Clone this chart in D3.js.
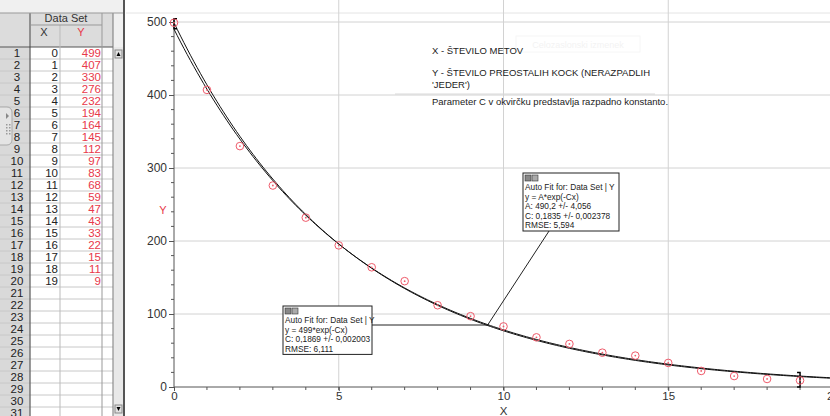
<!DOCTYPE html>
<html>
  <head>
    <script src="https://d3js.org/d3.v7.min.js"></script>
    <style>
      body { margin: 0; background: #fff; }
      text { font-family: "Liberation Sans", Arial, sans-serif; }
    </style>
  </head>
  <body>
    <script>
      // data from the table
      const xVals = [0, 1, 2, 3, 4, 5, 6, 7, 8, 9, 10, 11, 12, 13, 14, 15, 16, 17, 18, 19];
      const yVals = [499, 407, 330, 276, 232, 194, 164, 145, 112, 97, 83, 68, 59, 47, 43, 33, 22, 15, 11, 9];

      // fit parameters shown in the boxes (A, C)
      const fitA = [490.2, 499];
      const fitC = [0.1835, 0.1869];

      const xTicks = [0, 5, 10, 15, 20];
      const yTicks = [0, 100, 200, 300, 400, 500];

      const fitBox1 = ['Auto Fit for: Data Set | Y', 'y = A*exp(-Cx)', 'A: 490,2 +/- 4,056', 'C: 0,1835 +/- 0,002378', 'RMSE: 5,594'];
      const fitBox2 = ['Auto Fit for: Data Set | Y', 'y = 499*exp(-Cx)', 'C: 0,1869 +/- 0,002003', 'RMSE: 6,111'];

      const width = 830, height = 416;

      const svg = d3.select('body').append('svg')
        .attr('width', width).attr('height', height);

      // ---------- table panel on the left ----------
      const tbl = svg.append('g');
      tbl.append('rect').attr('x', 0).attr('y', 0).attr('width', 124).attr('height', height).attr('fill', '#f0f0f0');
      tbl.append('rect').attr('x', 0).attr('y', 13).attr('width', 113).attr('height', 34).attr('fill', '#dcdcdc');
      tbl.append('rect').attr('x', 31).attr('y', 47).attr('width', 82).attr('height', height - 47).attr('fill', '#fff');
      tbl.append('rect').attr('x', 0).attr('y', 47).attr('width', 30).attr('height', height - 47).attr('fill', '#d9d9d9');

      const rowH = 12, row0 = 47;
      for (let i = 0; i < 31; i++) {
        const y = row0 + i * rowH;
        tbl.append('line').attr('x1', 0).attr('x2', 113).attr('y1', y).attr('y2', y)
          .attr('stroke', i === 0 ? '#555' : '#c8c8c8').attr('stroke-width', i === 0 ? 1.2 : 1);
        tbl.append('text').attr('x', 17).attr('y', y + 10).attr('text-anchor', 'middle')
          .attr('font-size', 11.5).attr('fill', '#222').text(i + 1);
      }
      xVals.forEach((x, i) => {
        const y = row0 + i * rowH + 10;
        tbl.append('text').attr('x', 58).attr('y', y).attr('text-anchor', 'end')
          .attr('font-size', 11.5).attr('fill', '#222').text(x);
        tbl.append('text').attr('x', 101).attr('y', y).attr('text-anchor', 'end')
          .attr('font-size', 11.5).attr('fill', '#e8384a').text(yVals[i]);
      });
      // column lines
      [[30, '#444', 13], [60, '#bbb', 25], [102, '#999', 13], [113, '#777', 13]].forEach(([x, c, y0]) => {
        tbl.append('line').attr('x1', x).attr('x2', x).attr('y1', y0).attr('y2', height)
          .attr('stroke', c);
      });
      tbl.append('line').attr('x1', 31).attr('x2', 102).attr('y1', 25).attr('y2', 25).attr('stroke', '#999');
      tbl.append('line').attr('x1', 0).attr('x2', 124).attr('y1', 13).attr('y2', 13).attr('stroke', '#999');
      tbl.append('text').attr('x', 66).attr('y', 22).attr('text-anchor', 'middle').attr('font-size', 11).attr('fill', '#333').text('Data Set');
      tbl.append('text').attr('x', 44).attr('y', 36).attr('text-anchor', 'middle').attr('font-size', 11).attr('fill', '#333').text('X');
      tbl.append('text').attr('x', 81).attr('y', 36).attr('text-anchor', 'middle').attr('font-size', 11).attr('fill', '#e8384a').text('Y');
      // scroll bar
      tbl.append('rect').attr('x', 114).attr('y', 47).attr('width', 9).attr('height', height - 47).attr('fill', '#e8e8e8');
      tbl.append('rect').attr('x', 115).attr('y', 50).attr('width', 7).attr('height', 8).attr('fill', '#e0e0e0').attr('stroke', '#888');
      tbl.append('path').attr('d', 'M116.5,56 L118.5,52 L120.5,56 Z').attr('fill', '#000');
      tbl.append('rect').attr('x', 115).attr('y', 405).attr('width', 7).attr('height', 8).attr('fill', '#e0e0e0').attr('stroke', '#888');
      tbl.append('path').attr('d', 'M116.5,407 L118.5,411 L120.5,407 Z').attr('fill', '#000');
      tbl.append('line').attr('x1', 124).attr('x2', 124).attr('y1', 0).attr('y2', height).attr('stroke', '#555').attr('stroke-width', 2);
      // side handle
      tbl.append('rect').attr('x', -6).attr('y', 107).attr('width', 18).attr('height', 38).attr('rx', 5)
        .attr('fill', '#e4e4e4').attr('stroke', '#aaa');
      tbl.append('path').attr('d', 'M6,113 L9,116 L6,119 Z').attr('fill', '#888');
      for (let r = 0; r < 4; r++) for (let c = 0; c < 2; c++) {
        tbl.append('rect').attr('x', 6 + c * 3).attr('y', 124 + r * 3).attr('width', 1.5).attr('height', 1.5).attr('fill', '#999');
      }

      // ---------- graph ----------
      const xScale = d3.scaleLinear().domain([0, 20]).range([174, 833]);
      const yScale = d3.scaleLinear().domain([0, 500]).range([387, 22]);

      const plot = svg.append('g');
      plot.append('line').attr('x1', 126).attr('x2', width).attr('y1', 13).attr('y2', 13).attr('stroke', '#e4e4e4');

      // faint ghost caption
      plot.append('rect').attr('x', 516).attr('y', 36).attr('width', 124).attr('height', 16).attr('fill', 'none').attr('stroke', '#f6f6f6');
      plot.append('text').attr('x', 578).attr('y', 48).attr('text-anchor', 'middle').attr('font-size', 9)
        .attr('fill', '#f3f3f3').text('Celozaslonski izmenek');

      // grid
      plot.selectAll('.vg').data(xTicks.filter(d => d > 0 && d < 20)).enter().append('line')
        .attr('x1', d => xScale(d)).attr('x2', d => xScale(d)).attr('y1', 0).attr('y2', yScale(0))
        .attr('stroke', '#d2d2d2');
      plot.selectAll('.hg').data(yTicks.filter(d => d > 0)).enter().append('line')
        .attr('x1', xScale(0)).attr('x2', width).attr('y1', d => yScale(d)).attr('y2', d => yScale(d))
        .attr('stroke', '#d2d2d2');

      // axes
      const xAxis = d3.axisBottom(xScale).tickValues(xTicks).tickSize(4).tickPadding(1).tickFormat(d3.format('d'));
      const gx = plot.append('g').attr('transform', `translate(0,${yScale(0)})`).call(xAxis);
      gx.select('.domain').attr('stroke', '#555').attr('d', `M${xScale(0)},0H${width}`);
      gx.selectAll('text').attr('font-size', 11.5).attr('fill', '#333').attr('font-family', '"Liberation Sans", Arial, sans-serif');
      gx.selectAll('line').attr('stroke', '#555');
      plot.selectAll('.xm').data(d3.range(1, 20)).enter().append('line')
        .attr('x1', d => xScale(d)).attr('x2', d => xScale(d)).attr('y1', yScale(0)).attr('y2', yScale(0) + 3)
        .attr('stroke', '#555');

      const yAxis = d3.axisLeft(yScale).tickValues(yTicks).tickSize(5).tickPadding(2);
      const gy = plot.append('g').attr('transform', `translate(${xScale(0)},0)`).call(yAxis);
      gy.select('.domain').attr('stroke', '#555').attr('d', `M0,${yScale(0)}V18`);
      gy.selectAll('text').attr('font-size', 12).attr('fill', '#333').attr('font-family', '"Liberation Sans", Arial, sans-serif');
      gy.selectAll('line').attr('stroke', '#555');
      plot.selectAll('.ym').data(d3.range(0, 520, 20).filter(d => d % 100 !== 0)).enter().append('line')
        .attr('x1', xScale(0) - 3).attr('x2', xScale(0)).attr('y1', d => yScale(d)).attr('y2', d => yScale(d))
        .attr('stroke', '#555');

      plot.append('text').attr('x', xScale(10)).attr('y', 415).attr('text-anchor', 'middle')
        .attr('font-size', 11.5).attr('fill', '#333').text('X');
      plot.append('text').attr('x', 163).attr('y', 214).attr('text-anchor', 'middle')
        .attr('font-size', 11).attr('fill', '#e8384a').text('Y');

      // fit curves
      svg.append('clipPath').attr('id', 'clip').append('rect')
        .attr('x', xScale(0)).attr('y', 14).attr('width', width - xScale(0)).attr('height', yScale(0) - 14);
      const line = d3.line().x(d => xScale(d[0])).y(d => yScale(d[1]));
      fitA.forEach((A, k) => {
        const pts = d3.range(0, 20.3, 0.1).map(x => [x, A * Math.exp(-fitC[k] * x)]);
        plot.append('path').datum(pts).attr('d', line).attr('fill', 'none')
          .attr('stroke', '#111').attr('stroke-width', 1).attr('clip-path', 'url(#clip)');
      });

      // range brackets
      plot.append('path')
        .attr('d', `M${xScale(0) + 3},${yScale(499) - 4}H${xScale(0)}V${yScale(499) + 6}H${xScale(0) + 3}`)
        .attr('fill', 'none').attr('stroke', '#000').attr('stroke-width', 1.5);
      plot.append('path')
        .attr('d', `M${xScale(19) - 3},${yScale(9) - 8}H${xScale(19)}V${yScale(0)}H${xScale(19) - 3}`)
        .attr('fill', 'none').attr('stroke', '#000').attr('stroke-width', 1.5);

      // data points
      const pts = plot.selectAll('.pt').data(xVals).enter().append('g')
        .attr('transform', (d, i) => `translate(${xScale(d)},${yScale(yVals[i])})`);
      pts.append('circle').attr('r', 3.8).attr('fill', 'none').attr('stroke', '#ef5a6a').attr('stroke-width', 1);
      pts.append('circle').attr('r', 0.9).attr('fill', '#ef5a6a');

      // text annotation
      const note = plot.append('g');
      note.append('text').attr('x', 432).attr('y', 54).attr('font-size', 9.5).attr('fill', '#222').text('X - ŠTEVILO METOV');
      note.append('text').attr('x', 432).attr('y', 76).attr('font-size', 9.5).attr('fill', '#222').text('Y - ŠTEVILO PREOSTALIH KOCK (NERAZPADLIH');
      note.append('text').attr('x', 432).attr('y', 88).attr('font-size', 9.5).attr('fill', '#222').text("'JEDER')");
      note.append('line').attr('x1', 395).attr('x2', 655).attr('y1', 94).attr('y2', 94).attr('stroke', '#d8d8d8');
      note.append('text').attr('x', 432).attr('y', 105).attr('font-size', 9.5).attr('fill', '#222')
        .text('Parameter C v okvirčku predstavlja razpadno konstanto.');

      // fit boxes
      function fitBox(x, y, w, lines) {
        const g = plot.append('g');
        const h = 10 + lines.length * 9.6;
        g.append('rect').attr('x', x).attr('y', y).attr('width', w).attr('height', h)
          .attr('fill', '#fff').attr('stroke', '#222');
        g.append('rect').attr('x', x + 2).attr('y', y + 2).attr('width', 6).attr('height', 6).attr('fill', '#888').attr('stroke', '#333').attr('stroke-width', 0.6);
        g.append('rect').attr('x', x + 9).attr('y', y + 2).attr('width', 6).attr('height', 6).attr('fill', '#aaa').attr('stroke', '#333').attr('stroke-width', 0.6);
        lines.forEach((t, i) => {
          g.append('text').attr('x', x + 2).attr('y', y + 17 + i * 9.6)
            .attr('font-size', 8.3).attr('fill', '#222').text(t);
        });
      }
      // leader lines
      plot.append('line').attr('x1', 551).attr('y1', 228).attr('x2', 487).attr('y2', 326).attr('stroke', '#222');
      plot.append('line').attr('x1', 372).attr('y1', 325).attr('x2', 489).attr('y2', 325).attr('stroke', '#222');
      fitBox(523, 173, 96, fitBox1);
      fitBox(283, 306, 89, fitBox2);
    </script>
  </body>
</html>
